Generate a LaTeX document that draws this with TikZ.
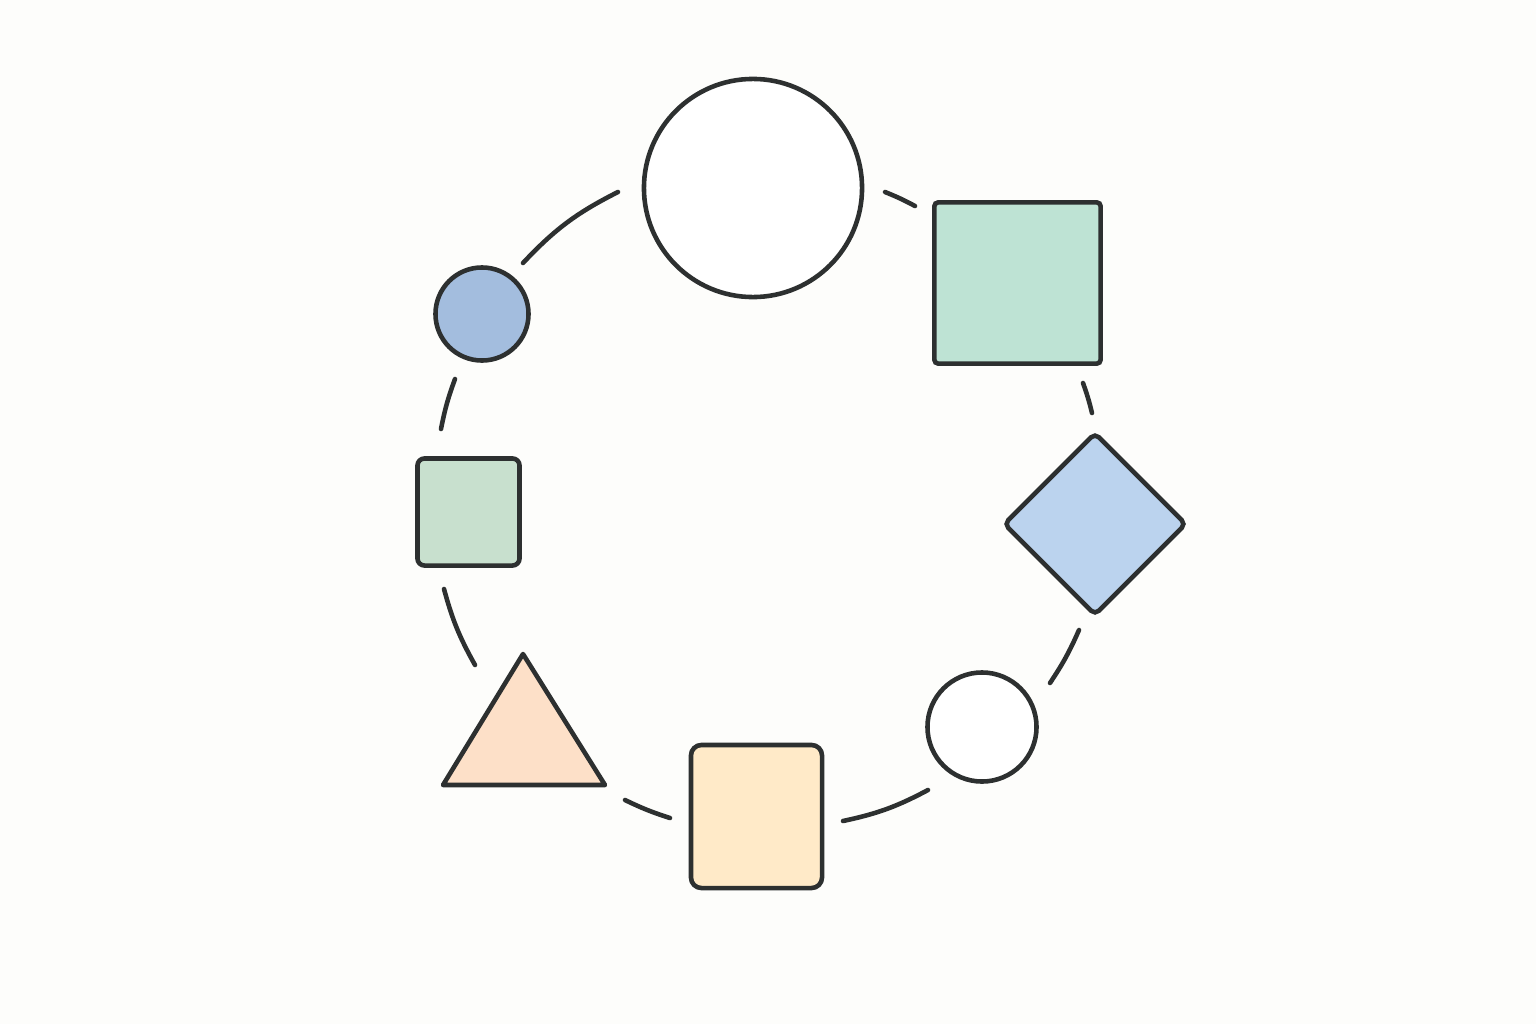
\documentclass[tikz,border=0pt]{standalone}
\usepackage{tikz}
\usetikzlibrary{positioning}
\definecolor{ink}{RGB}{45,48,48}
\definecolor{paper}{RGB}{253,253,251}
\definecolor{mint}{RGB}{190,227,212}
\definecolor{sky}{RGB}{187,211,238}
\definecolor{dusk}{RGB}{163,189,222}
\definecolor{sage}{RGB}{200,224,206}
\definecolor{peach}{RGB}{253,224,200}
\definecolor{cream}{RGB}{255,234,200}

\begin{document}
\begin{tikzpicture}[x=0.01cm, y=-0.01cm,
    shp/.style={draw=ink, line width=1.3pt, inner sep=0pt, outer sep=0pt},
    link/.style={draw=ink, line width=1.3pt, line cap=round}]
    \fill[paper] (0,0) rectangle (1536,1024);
    \useasboundingbox (0,0) rectangle (1536,1024);

    % shapes round the ring
    \node[shp, circle, fill=white, minimum size=2.18cm] (bigdisc) at (753,188) {};
    \node[shp, rectangle, fill=mint, rounded corners=1pt,
      minimum width=1.66cm, minimum height=1.61cm] (mintsq) at (1017.5,283) {};
    \node[shp, rectangle, fill=sky, rounded corners=1.5pt, rotate=45,
      minimum size=1.28cm] (kite) at (1095,524) {};
    \node[shp, circle, fill=white, minimum size=1.09cm] (smalldisc) at (982,727) {};
    \node[shp, rectangle, fill=cream, rounded corners=3pt,
      minimum width=1.31cm, minimum height=1.43cm] (creamsq) at (756.5,816.5) {};
    \draw[shp, fill=peach, line join=round] (523,654) -- (605,785) -- (443,785) -- cycle;
    \coordinate (tri) at (523,742);
    \node[shp, rectangle, fill=sage, rounded corners=2pt,
      minimum width=1.02cm, minimum height=1.07cm] (sagesq) at (468.5,512) {};
    \node[shp, circle, fill=dusk, minimum size=0.93cm] (bluedisc) at (482,314) {};

    % ends of the ring pieces
    \coordinate (g1) at (523,263);
    \coordinate (g2) at (618,192);
    \coordinate (g3) at (885,192);
    \coordinate (g4) at (915,206);
    \coordinate (g5) at (1083,383);
    \coordinate (g6) at (1092,413);
    \coordinate (g7) at (1079,630);
    \coordinate (g8) at (1050,683);
    \coordinate (g9) at (928,790);
    \coordinate (g10) at (843,821);
    \coordinate (g11) at (670,818);
    \coordinate (g12) at (625,800);
    \coordinate (g13) at (475,665);
    \coordinate (g14) at (444,589);
    \coordinate (g15) at (441,429);
    \coordinate (g16) at (455,379);

    \draw[link] (g1) to[bend left=10] (g2);
    \draw[link] (g3) to[bend left=3] (g4);
    \draw[link] (g5) to[bend left=3] (g6);
    \draw[link] (g7) to[bend left=5] (g8);
    \draw[link] (g9) to[bend left=8] (g10);
    \draw[link] (g11) to[bend left=4] (g12);
    \draw[link] (g13) to[bend left=7] (g14);
    \draw[link] (g15) to[bend left=4.5] (g16);
  \end{tikzpicture}
\end{document}
